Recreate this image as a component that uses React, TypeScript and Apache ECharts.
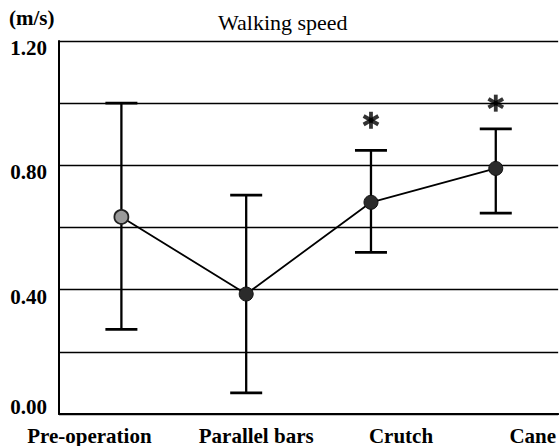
import React, { useEffect, useRef } from "react";
import * as echarts from "echarts";

const categories = ["Pre-operation", "Parallel bars", "Crutch", "Cane"];
const meanSpeed = [0.634, 0.386, 0.681, 0.79];
const lowerSpeed = [0.272, 0.068, 0.52, 0.646];
const upperSpeed = [1.0, 0.704, 0.848, 0.917];
const yTickLabels = ["0.00", "0.40", "0.80", "1.20"];
const starCategories = [2, 3];
const starValues = [0.945, 1.0];
const titleText = "Walking speed";
const unitText = "(m/s)";

// style constants (label offsets of the scanned original)
const catLabelPadLeft = [0, 20, 60, 74];
const catLabelPadRight = [64, 0, 0, 0];
const FONT = "Liberation Serif";

export default function App() {
  const ref = useRef<HTMLDivElement>(null);
  useEffect(() => {
    if (!ref.current) return;
    const chart = echarts.init(ref.current, null, { renderer: "svg" });
    const errData = categories.map((_, i) => [i, lowerSpeed[i], upperSpeed[i]]);
    const starData = starCategories.map((c, i) => [c, starValues[i]]);
    const starSeries = [0, 60, -60].map((rot) => ({
      type: "scatter",
      data: starData,
      symbol: "rect",
      symbolSize: [3.8, 17],
      symbolRotate: rot,
      itemStyle: { color: "#000" },
      z: 5,
      silent: true,
    }));
    const labelFont = { fontFamily: FONT, fontWeight: "bold", fontSize: 21, color: "#000" };
    chart.setOption({
      animation: false,
      backgroundColor: "#fff",
      textStyle: { fontFamily: FONT },
      title: {
        text: titleText,
        left: 213,
        top: 6,
        textStyle: { fontFamily: FONT, fontSize: 22, fontWeight: "normal", color: "#000" },
      },
      grid: { left: 59, top: 41, width: 500, height: 373 },
      xAxis: {
        type: "category",
        data: categories.map((c, i) => ({
          value: c,
          textStyle: { padding: [0, catLabelPadRight[i], 0, catLabelPadLeft[i]] },
        })),
        boundaryGap: true,
        axisLine: { show: true, lineStyle: { color: "#000", width: 2 } },
        axisTick: { show: false },
        axisLabel: {
          show: true,
          interval: 0,
          margin: 11,
          ...labelFont,
        },
      },
      yAxis: {
        type: "value",
        min: 0,
        max: 1.2,
        interval: 0.2,
        name: unitText,
        nameLocation: "end",
        nameGap: 13,
        nameTextStyle: { ...labelFont, align: "left", padding: [0, 0, 0, -50] },
        axisLine: { show: true, lineStyle: { color: "#000", width: 2 } },
        axisTick: { show: false },
        axisLabel: {
          show: true,
          margin: 12,
          ...labelFont,
          formatter: (v: number) => {
            const k = Math.round((v / 0.4) * 1000) / 1000;
            if (!Number.isInteger(k)) return "";
            return k === 0 ? `{up|${yTickLabels[k]}}` : `{down|${yTickLabels[k]}}`;
          },
          rich: {
            up: { ...labelFont, padding: [0, 0, 14, 0] },
            down: { ...labelFont, padding: [14, 0, 0, 0] },
          },
        },
        splitLine: { show: true, lineStyle: { color: "#000", width: 1.3 } },
      },
      series: [
        {
          type: "custom",
          data: errData,
          z: 3,
          renderItem: (params: any, api: any) => {
            const x = api.value(0);
            const lo = api.coord([x, api.value(1)]);
            const hi = api.coord([x, api.value(2)]);
            const hw = 16;
            return {
              type: "group",
              children: [
                { type: "line", shape: { x1: lo[0], y1: lo[1], x2: hi[0], y2: hi[1] }, style: { stroke: "#000", lineWidth: 2.3 } },
                { type: "line", shape: { x1: lo[0] - hw, y1: lo[1], x2: lo[0] + hw, y2: lo[1] }, style: { stroke: "#000", lineWidth: 2.8 } },
                { type: "line", shape: { x1: hi[0] - hw, y1: hi[1], x2: hi[0] + hw, y2: hi[1] }, style: { stroke: "#000", lineWidth: 2.8 } },
              ],
            };
          },
        },
        {
          type: "line",
          z: 4,
          data: meanSpeed.map((v, i) => ({
            value: v,
            itemStyle: i === 0
              ? { color: "#9a9a9a", borderColor: "#222", borderWidth: 1.8 }
              : { color: "#2b2b2b", borderColor: "#111", borderWidth: 1 },
          })),
          symbol: "circle",
          symbolSize: 14,
          showSymbol: true,
          lineStyle: { color: "#000", width: 1.8 },
        },
        ...starSeries,
      ],
    });
    return () => chart.dispose();
  }, []);
  return <div ref={ref} style={{ position: "fixed", left: 0, top: 0, width: 559, height: 446 }} />;
}
